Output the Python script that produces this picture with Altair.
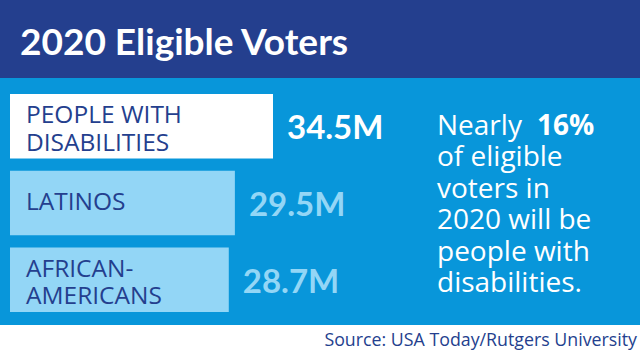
import altair as alt
import pandas as pd

# ---- data ----
categories = ["PEOPLE WITH\nDISABILITIES", "LATINOS", "AFRICAN-\nAMERICANS"]
values = [34.5, 29.5, 28.7]
value_labels = ["34.5M", "29.5M", "28.7M"]
series_colors = ["#ffffff", "#93d6f6", "#93d6f6"]
title_text = "2020 Eligible Voters"
note_first = "Nearly"
note_bold = "16%"
note_lines = ["of eligible", "voters in", "2020 will be", "people with", "disabilities."]
source_text = "Source: USA Today/Rutgers University"

W, H = 640, 351
DARK = "#243f8e"
BRIGHT = "#0896da"
BOLDFONT = "Lato"
THIN = "Open Sans"

df = pd.DataFrame({"cat": categories, "value": values, "label": value_labels})
one = pd.DataFrame({"k": [0]})

xscale = alt.Scale(domain=[0, 34.5], range=[10, 273], nice=False, zero=True)
yscale = alt.Scale(domain=categories, range=[94, 312], paddingInner=0.16, paddingOuter=0)
cscale = alt.Scale(domain=categories, range=series_colors)

banner = alt.Chart(one).mark_rect(color=DARK).encode(
    x=alt.value(0), x2=alt.value(W), y=alt.value(0), y2=alt.value(78))
panel = alt.Chart(one).mark_rect(color=BRIGHT).encode(
    x=alt.value(0), x2=alt.value(W), y=alt.value(78), y2=alt.value(325))

title = alt.Chart(one).mark_text(
    text=title_text, align="left", baseline="alphabetic", font=BOLDFONT,
    fontSize=37, fontWeight="bold", color="white"
).encode(x=alt.value(20), y=alt.value(55))

bars = alt.Chart(df).mark_bar().encode(
    x=alt.X("value:Q", scale=xscale, axis=None),
    y=alt.Y("cat:N", scale=yscale, sort=categories, axis=None),
    color=alt.Color("cat:N", scale=cscale, legend=None),
)

def cat_layer(expr, dy):
    return alt.Chart(df).transform_filter(expr).mark_text(
        align="left", baseline="middle", lineBreak="\n", font=THIN,
        fontSize=24.5, lineHeight=27.5, color=DARK, dy=dy
    ).encode(
        x=alt.value(26),
        y=alt.Y("cat:N", scale=yscale, sort=categories, axis=None),
        text="cat:N",
    )

cat_two = cat_layer("indexof(datum.cat, '\\n') >= 0", -10)
cat_one = cat_layer("indexof(datum.cat, '\\n') < 0", 0)

val_text = alt.Chart(df).mark_text(
    align="left", baseline="middle", dx=14, dy=3, font=BOLDFONT,
    fontSize=33, fontWeight="bold"
).encode(
    x=alt.X("value:Q", scale=xscale, axis=None),
    y=alt.Y("cat:N", scale=yscale, sort=categories, axis=None),
    text="label:N",
    color=alt.Color("cat:N", scale=cscale, legend=None),
)

note1 = alt.Chart(one).mark_text(
    text=note_first, align="left", baseline="alphabetic", font=THIN,
    fontSize=28, color="white"
).encode(x=alt.value(437), y=alt.value(135))
note1b = alt.Chart(one).mark_text(
    text=note_bold, align="left", baseline="alphabetic", font=THIN,
    fontSize=28, fontWeight="bold", color="white"
).encode(x=alt.value(537), y=alt.value(135))
note_rest = alt.Chart(one).mark_text(
    text=note_lines, align="left", baseline="alphabetic", font=THIN,
    fontSize=28, lineHeight=31.5, color="white"
).encode(x=alt.value(437), y=alt.value(166))

source = alt.Chart(one).mark_text(
    text=source_text, align="right", baseline="alphabetic", font=THIN,
    fontSize=17.8, color=DARK
).encode(x=alt.value(637), y=alt.value(346))

chart = alt.layer(
    banner, panel, title, bars, cat_two, cat_one, val_text, note1, note1b, note_rest, source
).properties(
    width=W, height=H, padding=0, autosize=alt.AutoSizeParams(type="none"),
    background="white"
).configure_view(stroke=None)

chart.save("out.html", embed_options={"renderer": "svg", "actions": False})
